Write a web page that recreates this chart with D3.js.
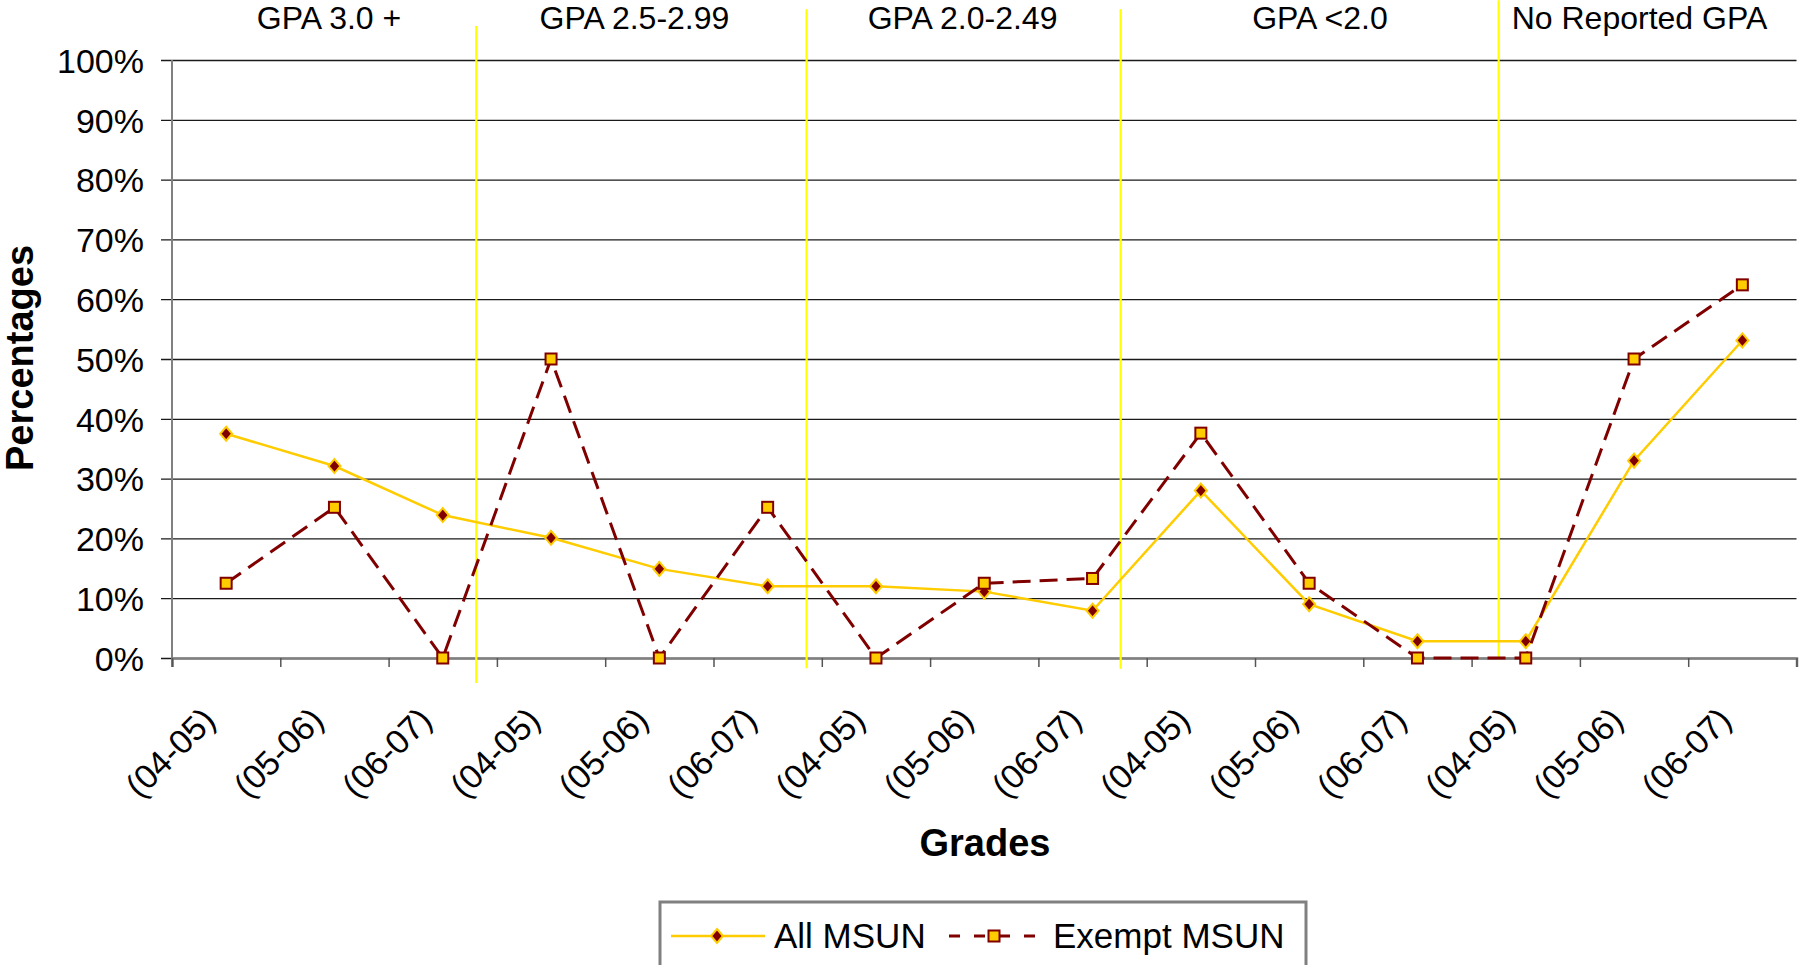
<!DOCTYPE html>
<html>
<head>
<meta charset="utf-8">
<script src="https://cdn.jsdelivr.net/npm/d3@7"></script>
<style>
  body { margin: 0; background: #fff; }
  text { font-family: "Liberation Sans", Arial, sans-serif; }
</style>
</head>
<body>
<script>
// chart values
var grades = ["(04-05)", "(05-06)", "(06-07)", "(04-05)", "(05-06)", "(06-07)", "(04-05)", "(05-06)",
              "(06-07)", "(04-05)", "(05-06)", "(06-07)", "(04-05)", "(05-06)", "(06-07)"];
var allMsun = [37.5, 32.1, 23.9, 20.1, 14.9, 12, 12, 11.1, 7.9, 28, 9, 2.8, 2.8, 33, 53.1];
var exemptMsun = [12.5, 25.2, 0, 50, 0, 25.2, 0, 12.5, 13.3, 37.6, 12.5, 0, 0, 50, 62.4];
var yTicks = [0, 10, 20, 30, 40, 50, 60, 70, 80, 90, 100];

// group headers (position in category units)
var groupNames = ["GPA 3.0 +", "GPA 2.5-2.99", "GPA 2.0-2.49", "GPA <2.0", "No Reported GPA"];
var groupPos = [1.45, 4.27, 7.30, 10.6, 13.55];

// hand drawn yellow dividers: x in category units, top / bottom in percent
var dividerPos = [2.81, 5.86, 8.76, 12.25];
var dividerTop = [105.7, 108.5, 108.5, 110];
var dividerBottom = [-4.2, -1.7, -1.8, -0.2];

var width = 1799;
var height = 965;

var svg = d3.select("body")
    .append("svg")
    .attr("width", width)
    .attr("height", height);

var plotL = 172, plotR = 1796.5, plotT = 60, plotB = 658;

var x = d3.scaleLinear()
    .domain([0, grades.length])
    .range([plotL, plotR]);

var y = d3.scaleLinear()
    .domain([0, 100])
    .range([plotB, plotT]);

var gold = "#FFCC00";
var maroon = "#800000";

// gridlines + y labels
var yAxis = svg.append("g")
    .attr("transform", "translate(161,0)")
    .call(d3.axisLeft(y)
        .tickValues(yTicks)
        .tickFormat(function(d) { return d + "%"; })
        .tickSize(-(plotR - 161))
        .tickPadding(17));
yAxis.select(".domain").remove();
yAxis.selectAll(".tick line")
    .attr("stroke", "#1a1a1a")
    .attr("stroke-width", 1.3);
yAxis.selectAll(".tick text")
    .attr("font-size", 34)
    .attr("font-family", "Liberation Sans, Arial, sans-serif")
    .attr("fill", "#000")
    .attr("dy", "0.36em");

// y axis line
svg.append("line")
    .attr("x1", plotL).attr("x2", plotL)
    .attr("y1", y(100)).attr("y2", y(0) + 9)
    .attr("stroke", "#808080")
    .attr("stroke-width", 2);

// x axis: ticks at category boundaries
var xAxis = svg.append("g")
    .attr("transform", "translate(0," + plotB + ")")
    .call(d3.axisBottom(x)
        .tickValues(d3.range(grades.length + 1))
        .tickSize(9)
        .tickFormat(""));
xAxis.select(".domain")
    .attr("stroke", "#808080")
    .attr("stroke-width", 2.5);
xAxis.selectAll(".tick line")
    .attr("stroke", "#555")
    .attr("stroke-width", 1.5);

// x labels
svg.append("g")
    .selectAll("text")
    .data(grades)
    .enter().append("text")
    .attr("transform", function(d, i) {
        return "translate(" + (x(i + 0.5) - 9) + "," + (plotB + 64) + ") rotate(-45)";
    })
    .attr("text-anchor", "end")
    .attr("font-size", 34)
    .attr("fill", "#000")
    .text(function(d) { return d; });

// yellow dividers
svg.append("g")
    .selectAll("line")
    .data(dividerPos)
    .enter().append("line")
    .attr("x1", function(d) { return x(d); })
    .attr("x2", function(d) { return x(d); })
    .attr("y1", function(d, i) { return y(dividerTop[i]); })
    .attr("y2", function(d, i) { return y(dividerBottom[i]); })
    .attr("stroke", "#FFFF00")
    .attr("stroke-width", 2.2);

// group headers
svg.append("g")
    .selectAll("text")
    .data(groupNames)
    .enter().append("text")
    .attr("x", function(d, i) { return x(groupPos[i]); })
    .attr("y", 29)
    .attr("text-anchor", "middle")
    .attr("font-size", 32)
    .attr("fill", "#000")
    .text(function(d) { return d; });

// axis titles
svg.append("text")
    .attr("transform", "translate(33,358) rotate(-90)")
    .attr("text-anchor", "middle")
    .attr("font-size", 38)
    .attr("font-weight", "bold")
    .text("Percentages");

svg.append("text")
    .attr("x", 985)
    .attr("y", 856)
    .attr("text-anchor", "middle")
    .attr("font-size", 38)
    .attr("font-weight", "bold")
    .text("Grades");

var line = d3.line()
    .x(function(d, i) { return x(i + 0.5); })
    .y(function(d) { return y(d); });

var diamond = "M0,-7L6,0L0,7L-6,0Z";

// All MSUN
svg.append("path")
    .datum(allMsun)
    .attr("d", line)
    .attr("fill", "none")
    .attr("stroke", gold)
    .attr("stroke-width", 2.5);

svg.append("g")
    .selectAll("path")
    .data(allMsun)
    .enter().append("path")
    .attr("d", diamond)
    .attr("transform", function(d, i) { return "translate(" + x(i + 0.5) + "," + y(d) + ")"; })
    .attr("fill", maroon)
    .attr("stroke", gold)
    .attr("stroke-width", 2);

// Exempt MSUN
svg.append("path")
    .datum(exemptMsun)
    .attr("d", line)
    .attr("fill", "none")
    .attr("stroke", maroon)
    .attr("stroke-width", 3)
    .attr("stroke-dasharray", "18,9");

svg.append("g")
    .selectAll("rect")
    .data(exemptMsun)
    .enter().append("rect")
    .attr("x", function(d, i) { return x(i + 0.5) - 5.5; })
    .attr("y", function(d) { return y(d) - 5.5; })
    .attr("width", 11)
    .attr("height", 11)
    .attr("fill", gold)
    .attr("stroke", maroon)
    .attr("stroke-width", 2);

// legend
var legend = svg.append("g")
    .attr("transform", "translate(660,902)");

legend.append("rect")
    .attr("width", 646)
    .attr("height", 90)
    .attr("fill", "#fff")
    .attr("stroke", "#808080")
    .attr("stroke-width", 3);

legend.append("line")
    .attr("x1", 11).attr("x2", 105)
    .attr("y1", 34).attr("y2", 34)
    .attr("stroke", gold)
    .attr("stroke-width", 2.5);
legend.append("path")
    .attr("d", diamond)
    .attr("transform", "translate(57,34)")
    .attr("fill", maroon)
    .attr("stroke", gold)
    .attr("stroke-width", 2);
legend.append("text")
    .attr("x", 114)
    .attr("y", 46)
    .attr("font-size", 35)
    .text("All MSUN");

legend.append("line")
    .attr("x1", 289).attr("x2", 382)
    .attr("y1", 34).attr("y2", 34)
    .attr("stroke", maroon)
    .attr("stroke-width", 3)
    .attr("stroke-dasharray", "11,14");
legend.append("rect")
    .attr("x", 328.5).attr("y", 28.5)
    .attr("width", 11).attr("height", 11)
    .attr("fill", gold)
    .attr("stroke", maroon)
    .attr("stroke-width", 2);
legend.append("text")
    .attr("x", 393)
    .attr("y", 46)
    .attr("font-size", 35)
    .text("Exempt MSUN");
</script>
</body>
</html>
